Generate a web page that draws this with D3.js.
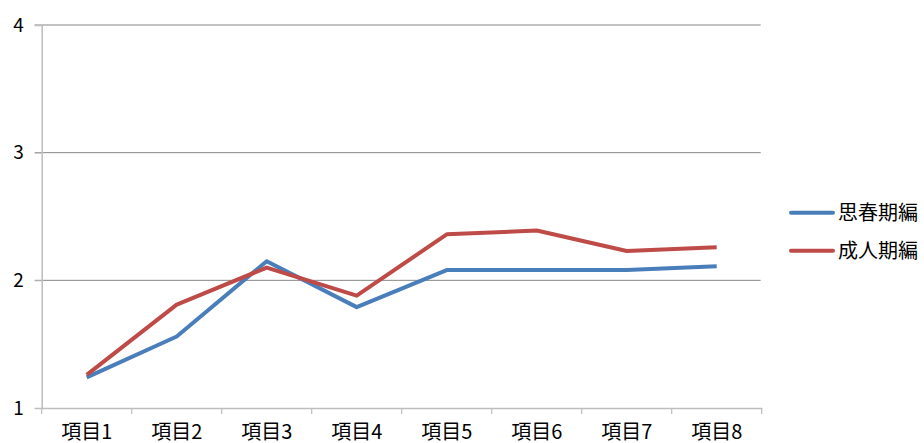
<!DOCTYPE html>
<html><head><meta charset="utf-8">
<script src="https://cdn.jsdelivr.net/npm/d3@7"></script>
<style>body{margin:0;background:#fff}svg{display:block}text{font-family:"Noto Sans CJK JP","Noto Sans",sans-serif;fill:#000}</style>
</head><body><svg id="c" width="924" height="443"></svg>
<script>
const categories = ["項目1","項目2","項目3","項目4","項目5","項目6","項目7","項目8"];
const seriesNames = ["思春期編","成人期編"];
const seriesA = [1.24,1.56,2.15,1.79,2.08,2.08,2.08,2.11];
const seriesB = [1.26,1.81,2.10,1.88,2.36,2.39,2.23,2.26];
const yTicks = [1,2,3,4];
const colors = ["#4a7ebb","#be4b48"];

(function(){
const svg = d3.select("#c");
const mL = 41.7, mR = 761.7, mT = 25, mB = 408;
const x = d3.scaleBand().domain(categories).range([mL, mR]);
const y = d3.scaleLinear().domain([1,4]).range([mB, mT]);

// gridlines
svg.append("g").selectAll("line").data(yTicks.filter(d=>d>1)).join("line")
  .attr("x1", mL-7).attr("x2", mR-1).attr("y1", d=>y(d)).attr("y2", d=>y(d))
  .attr("stroke","#868686").attr("stroke-width",1);
// y axis
const ya = svg.append("g").attr("transform",`translate(${mL},0)`)
  .call(d3.axisLeft(y).tickValues(yTicks).tickFormat(d3.format("d")).tickSize(7).tickPadding(11));
ya.select(".domain").attr("stroke","#bdbdbd").attr("stroke-width",1.5);
ya.selectAll(".tick line").attr("stroke","#bdbdbd");
ya.selectAll(".tick text").attr("font-size",19).style("font-family",'"Noto Sans CJK JP",sans-serif');
// x axis
const xa = svg.append("g").attr("transform",`translate(0,${mB})`)
  .call(d3.axisBottom(x).tickSize(0).tickPadding(17));
xa.select(".domain").attr("stroke","#bdbdbd").attr("stroke-width",1.5);
xa.selectAll(".tick text").attr("font-size",20).style("font-family",'"Noto Sans CJK JP",sans-serif');
// band boundary ticks
const bounds = categories.map(c=>x(c)).concat([mR]);
svg.append("g").selectAll("line").data(bounds).join("line")
  .attr("x1",d=>d).attr("x2",d=>d).attr("y1",mB).attr("y2",mB+6)
  .attr("stroke","#bdbdbd").attr("stroke-width",1.2);

const line = d3.line().x((d,i)=>x(categories[i])+x.bandwidth()/2).y(d=>y(d));
[seriesA, seriesB].forEach((s,k)=>{
  svg.append("path").datum(s).attr("d",line).attr("fill","none")
    .attr("stroke",colors[k]).attr("stroke-width",4).attr("stroke-linejoin","round");
});

// legend
const lg = svg.append("g");
[212.7, 250.7].forEach((ly,k)=>{
  lg.append("line").attr("x1",791).attr("x2",833).attr("y1",ly).attr("y2",ly)
    .attr("stroke",colors[k]).attr("stroke-width",4).attr("stroke-linecap","round");
  lg.append("text").attr("x",838).attr("y",ly).attr("dy","0.35em").attr("font-size",20).text(seriesNames[k]);
});
})();
</script></body></html>
